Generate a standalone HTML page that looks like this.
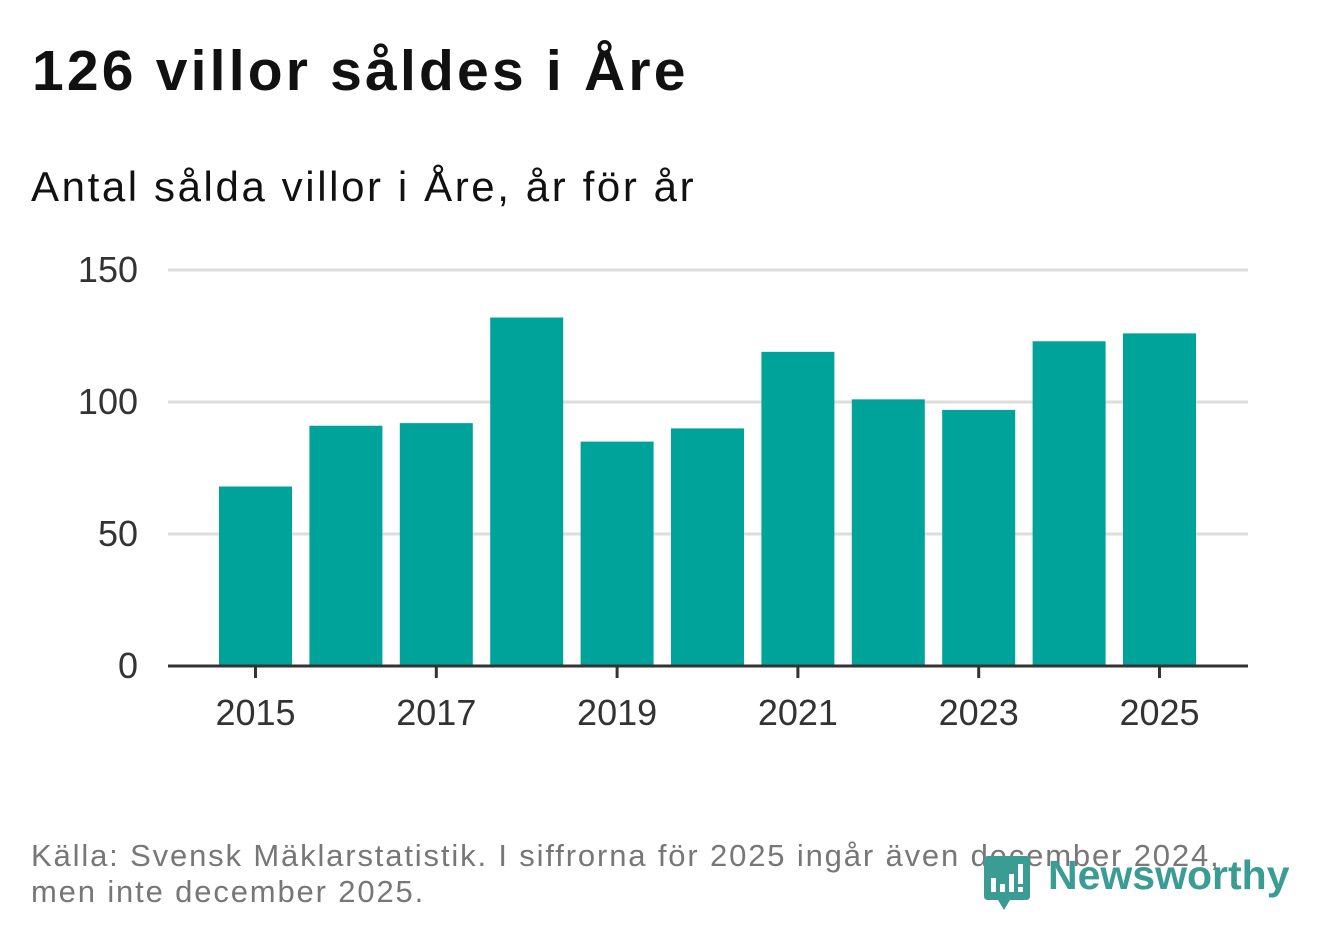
<!DOCTYPE html>
<html><head><meta charset="utf-8"><style>
body{margin:0;width:1322px;height:939px;background:#fff;font-family:"Liberation Sans",sans-serif;overflow:hidden;position:relative}
.t{position:absolute;white-space:nowrap}
</style></head><body>
<div class="t" style="left:32px;top:38px;font-size:57px;font-weight:bold;color:#111;letter-spacing:3.2px">126 villor såldes i Åre</div>
<div class="t" style="left:31px;top:163px;font-size:42px;color:#111;letter-spacing:2.6px">Antal sålda villor i Åre, år för år</div>
<svg id="chart" width="1322" height="800" style="position:absolute;left:0;top:0"></svg>
<div class="t" style="left:31px;top:838px;font-size:31px;color:#777;line-height:36px;letter-spacing:1.85px">Källa: Svensk Mäklarstatistik. I siffrorna för 2025 ingår även december 2024,<br>men inte december 2025.</div>
<div style="position:absolute;left:982px;top:852px;width:310px;height:60px">
<svg width="50" height="58" style="position:absolute;left:0;top:2px"><path d="M2 6 Q2 2 6 2 H44 Q48 2 48 6 V42 Q48 46 44 46 H28 L22 56 L16 46 H6 Q2 46 2 42Z" fill="#3a9c92"/><rect x="9" y="24" width="5" height="14" fill="#fff"/><rect x="18" y="30" width="5" height="8" fill="#fff"/><rect x="27" y="20" width="5" height="18" fill="#fff"/><rect x="36" y="10" width="5" height="20" fill="#fff"/><rect x="36" y="33" width="5" height="5" fill="#fff"/></svg>
<div class="t" style="left:66px;top:0px;font-size:41px;font-weight:bold;color:#3a9c92">Newsworthy</div>
</div>
<script>
const years=[2015,2016,2017,2018,2019,2020,2021,2022,2023,2024,2025];
const values=[68,91,92,132,85,90,119,101,97,123,126];
const yTicks=[0,50,100,150];
const xTickLabels=[2015,2017,2019,2021,2023,2025];
const svg=document.getElementById('chart');const NS='http://www.w3.org/2000/svg';
const x0=168,x1=1248,y0=666,y1=270,step=90.4,bw=73,first=255.5;
const y=v=>y0-(v/150)*(y0-y1);
const x=yr=>first+(yr-2015)*step;
function mk(t,a){const e=document.createElementNS(NS,t);for(const k in a)e.setAttribute(k,a[k]);svg.appendChild(e);return e;}
yTicks.forEach(v=>{
 if(v>0){const l=mk('line',{x1:x0,x2:x1,y1:y(v),y2:y(v),stroke:'#ddd','stroke-width':3});
 
 }
 const t=mk('text',{x:138,y:y(v)+12,'text-anchor':'end','font-size':36,fill:'#333','font-family':'Liberation Sans, sans-serif'});t.textContent=v;
 
 
});
years.forEach((yr,i)=>{
 const r=mk('rect',{x:x(yr)-bw/2,y:y(values[i]),width:bw,height:y0-y(values[i]),fill:'#00a39a'});
 
 
});
const ax=mk('line',{x1:x0,x2:x1,y1:y0,y2:y0,stroke:'#333','stroke-width':3});


xTickLabels.forEach(yr=>{
 const tk=mk('line',{x1:x(yr),x2:x(yr),y1:y0,y2:y0+12,stroke:'#333','stroke-width':3});
 
 
 const t=mk('text',{x:x(yr),y:725,'text-anchor':'middle','font-size':36,fill:'#333','font-family':'Liberation Sans, sans-serif'});t.textContent=yr;
 
 
});
</script>
</body></html>
